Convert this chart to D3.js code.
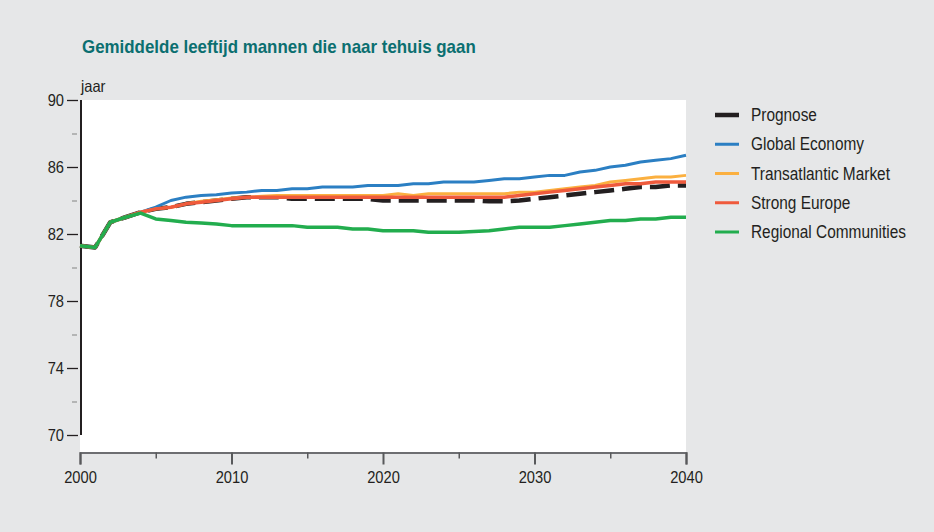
<!DOCTYPE html>
<html>
<head>
<meta charset="utf-8">
<script src="https://cdn.jsdelivr.net/npm/d3@7"></script>
<style>
  body { margin: 0; background: #e6e7e8; }
  svg { display: block; font-family: "Liberation Sans", Arial, sans-serif; }
  .axis text { fill: #231f20; font-size: 16.5px; }
</style>
</head>
<body>
<svg id="chart" width="934" height="532"></svg>
<script>
const years = [
  2000, 2001, 2002, 2003, 2004, 2005, 2006, 2007, 2008, 2009,
  2010, 2011, 2012, 2013, 2014, 2015, 2016, 2017, 2018, 2019,
  2020, 2021, 2022, 2023, 2024, 2025, 2026, 2027, 2028, 2029,
  2030, 2031, 2032, 2033, 2034, 2035, 2036, 2037, 2038, 2039, 2040,
];

const prognose = [
  81.3, 81.2, 82.7, 83.0, 83.3, 83.5, 83.6, 83.8, 83.9, 84.0,
  84.1, 84.2, 84.2, 84.2, 84.1, 84.1, 84.1, 84.1, 84.1, 84.1,
  84.0, 84.0, 84.0, 84.0, 84.0, 84.0, 84.0, 83.95, 83.95, 84.0,
  84.1, 84.2, 84.3, 84.4, 84.5, 84.6, 84.7, 84.8, 84.8, 84.9, 84.9,
];
const globalEconomy = [
  81.3, 81.2, 82.7, 83.0, 83.3, 83.6, 84.0, 84.2, 84.3, 84.35,
  84.45, 84.5, 84.6, 84.6, 84.7, 84.7, 84.8, 84.8, 84.8, 84.9,
  84.9, 84.9, 85.0, 85.0, 85.1, 85.1, 85.1, 85.2, 85.3, 85.3,
  85.4, 85.5, 85.5, 85.7, 85.8, 86.0, 86.1, 86.3, 86.4, 86.5, 86.7,
];
const transatlantic = [
  81.3, 81.2, 82.7, 83.0, 83.3, 83.5, 83.6, 83.8, 83.95, 84.05,
  84.15, 84.2, 84.25, 84.3, 84.3, 84.3, 84.3, 84.3, 84.3, 84.3,
  84.3, 84.4, 84.3, 84.4, 84.4, 84.4, 84.4, 84.4, 84.4, 84.5,
  84.5, 84.6, 84.7, 84.8, 84.9, 85.1, 85.2, 85.3, 85.4, 85.4, 85.5,
];
const strongEurope = [
  81.3, 81.2, 82.7, 83.0, 83.3, 83.5, 83.6, 83.8, 83.9, 84.0,
  84.1, 84.2, 84.2, 84.2, 84.2, 84.2, 84.2, 84.2, 84.2, 84.2,
  84.2, 84.2, 84.2, 84.2, 84.2, 84.2, 84.2, 84.2, 84.2, 84.3,
  84.4, 84.5, 84.6, 84.7, 84.8, 84.9, 85.0, 85.0, 85.1, 85.1, 85.1,
];
const regional = [
  81.3, 81.2, 82.7, 83.0, 83.25, 82.9, 82.8, 82.7, 82.65, 82.6,
  82.5, 82.5, 82.5, 82.5, 82.5, 82.4, 82.4, 82.4, 82.3, 82.3,
  82.2, 82.2, 82.2, 82.1, 82.1, 82.1, 82.15, 82.2, 82.3, 82.4,
  82.4, 82.4, 82.5, 82.6, 82.7, 82.8, 82.8, 82.9, 82.9, 83.0, 83.0,
];

const yMajorTicks = [70, 74, 78, 82, 86, 90];
const yMinorTicks = [72, 76, 80, 84, 88];
const xMajorTicks = [2000, 2010, 2020, 2030, 2040];
const xMinorTicks = [2005, 2015, 2025, 2035];

const title = "Gemiddelde leeftijd mannen die naar tehuis gaan";
const unitLabel = "jaar";

// drawn bottom to top
const series = [
  { name: "Prognose", values: prognose, color: "#231f20", width: 4.5, dash: "20 8" },
  { name: "Global Economy", values: globalEconomy, color: "#2b7fc3", width: 3 },
  { name: "Transatlantic Market", values: transatlantic, color: "#fbb040", width: 3 },
  { name: "Strong Europe", values: strongEurope, color: "#ef5a3c", width: 3.5 },
  { name: "Regional Communities", values: regional, color: "#22ad4e", width: 3.5 },
];

// the original type is a narrow grotesque; squeeze Liberation Sans a bit
function condense(sel, k) {
  sel.each(function () {
    const w = this.getComputedTextLength();
    d3.select(this)
      .attr("textLength", w * k)
      .attr("lengthAdjust", "spacingAndGlyphs");
  });
}

const svg = d3.select("#chart");
svg.append("rect").attr("width", 934).attr("height", 532).attr("fill", "#e6e7e8");

const plot = { left: 80, right: 686, top: 100, bottom: 435, axisY: 452.5 };

const x = d3.scaleLinear().domain([2000, 2040]).range([plot.left, plot.right]);
const y = d3.scaleLinear().domain([70, 90]).range([plot.bottom, plot.top]);

svg.append("rect")
  .attr("x", plot.left)
  .attr("y", plot.top)
  .attr("width", plot.right - plot.left)
  .attr("height", plot.axisY - plot.top)
  .attr("fill", "#ffffff");

svg.append("text")
  .attr("x", 82)
  .attr("y", 53)
  .attr("fill", "#0b6f70")
  .attr("font-size", 19)
  .attr("font-weight", "bold")
  .text(title)
  .call(condense, 0.89);

svg.append("text")
  .attr("x", 81)
  .attr("y", 92)
  .attr("fill", "#231f20")
  .attr("font-size", 16.5)
  .text(unitLabel)
  .call(condense, 0.89);

// y axis
const yMajor = svg.append("g")
  .attr("class", "axis")
  .attr("transform", "translate(78,0)")
  .call(d3.axisLeft(y).tickValues(yMajorTicks).tickSize(11).tickPadding(3));
yMajor.select(".domain").remove();
yMajor.selectAll(".tick line").attr("stroke", "#231f20").attr("stroke-width", 1.3);
yMajor.selectAll(".tick text").call(condense, 0.89);

const yMinor = svg.append("g")
  .attr("transform", "translate(77,0)")
  .call(d3.axisLeft(y).tickValues(yMinorTicks).tickSize(5).tickFormat(""));
yMinor.select(".domain").remove();
yMinor.selectAll(".tick line").attr("stroke", "#9a9a9a").attr("stroke-width", 1.3);

svg.append("line")
  .attr("x1", 81).attr("x2", 81)
  .attr("y1", y(90)).attr("y2", y(70))
  .attr("stroke", "#231f20")
  .attr("stroke-width", 2);

// x axis
const xMajor = svg.append("g")
  .attr("class", "axis")
  .attr("transform", `translate(0,${plot.axisY})`)
  .call(d3.axisBottom(x).tickValues(xMajorTicks).tickSize(12).tickPadding(7).tickFormat(d3.format("d")));
xMajor.select(".domain").attr("stroke", "#6d6e71").attr("stroke-width", 2);
xMajor.selectAll(".tick line").attr("stroke", "#58595b").attr("stroke-width", 2);
xMajor.selectAll(".tick text").call(condense, 0.89);

const xMinor = svg.append("g")
  .attr("transform", `translate(0,${plot.axisY})`)
  .call(d3.axisBottom(x).tickValues(xMinorTicks).tickSize(6).tickFormat(""));
xMinor.select(".domain").remove();
xMinor.selectAll(".tick line").attr("stroke", "#58595b").attr("stroke-width", 1.5);

// lines
const line = d3.line()
  .x((d, i) => x(years[i]))
  .y((d) => y(d));

series.forEach((s) => {
  svg.append("path")
    .datum(s.values)
    .attr("d", line)
    .attr("fill", "none")
    .attr("stroke", s.color)
    .attr("stroke-width", s.width)
    .attr("stroke-linejoin", "round")
    .attr("stroke-dasharray", s.dash || null);
});

// legend
const legendRowY = d3.scalePoint()
  .domain(series.map((s) => s.name))
  .range([115, 232]);

const legend = svg.append("g");
series.forEach((s) => {
  const ly = legendRowY(s.name);
  legend.append("line")
    .attr("x1", 715).attr("x2", 739)
    .attr("y1", ly).attr("y2", ly)
    .attr("stroke", s.color)
    .attr("stroke-width", s.dash ? 4.5 : 3);
  legend.append("text")
    .attr("x", 751)
    .attr("y", ly)
    .attr("dy", "0.35em")
    .attr("fill", "#231f20")
    .attr("font-size", 17.5)
    .text(s.name)
    .call(condense, 0.88);
});
</script>
</body>
</html>
